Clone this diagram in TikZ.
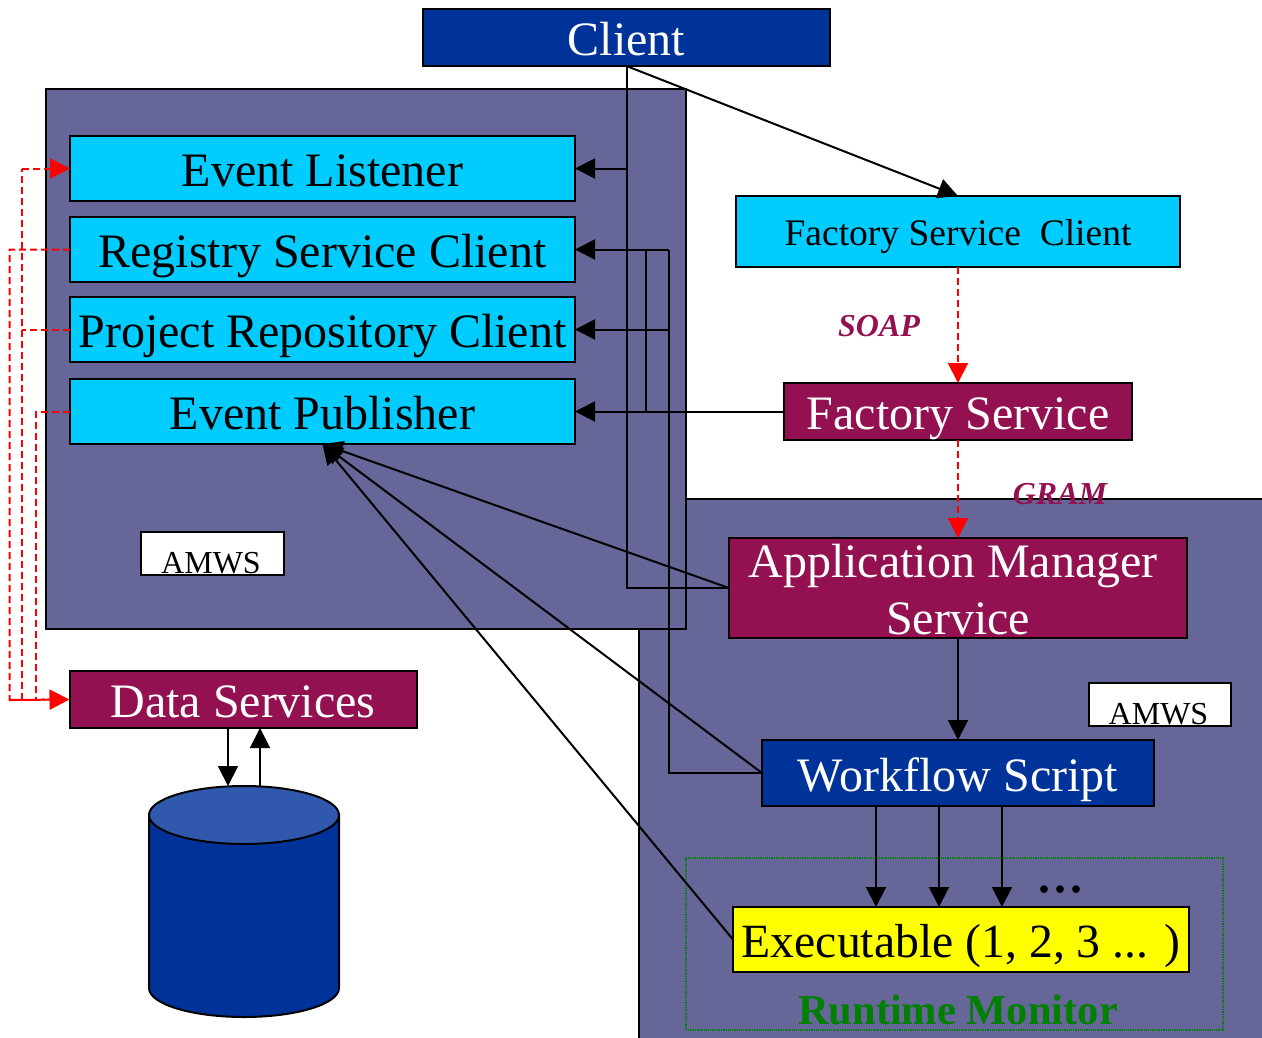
\documentclass[tikz,border=0pt]{standalone}
\usepackage{fontspec}
\setmainfont{Liberation Serif}
\usetikzlibrary{arrows.meta}
\definecolor{clientblue}{HTML}{003399}
\definecolor{panelgray}{HTML}{666699}
\definecolor{skycyan}{HTML}{00CCFF}
\definecolor{maroonbox}{HTML}{931150}
\definecolor{dbtop}{HTML}{3059AD}
\definecolor{monitorgreen}{HTML}{008000}
\definecolor{execyellow}{HTML}{FFFF00}
\newcommand{\pxfont}[1]{\fontsize{#1}{#1}\selectfont}
\tikzset{>={Triangle[length=20pt,width=20pt]},
  box/.style={draw,rectangle,inner sep=0pt,outer sep=0pt,align=center,font=\pxfont{48},text=black},
  lined/.style={text height=46pt,text depth=10pt},
  panel/.style={box,fill=panelgray},
  cyanbox/.style={box,lined,fill=skycyan},
  marbox/.style={box,lined,fill=maroonbox,text=white},
  bluebox/.style={box,lined,fill=clientblue,text=white},
  amws/.style={box,fill=white,font=\pxfont{32},text height=39pt,text depth=0pt},
  flow/.style={->},
  reddash/.style={red,line width=2pt,dash pattern=on 7pt off 4pt},
  redflow/.style={reddash,->},
  protolabel/.style={font=\pxfont{32}\bfseries\itshape,text=maroonbox,inner sep=0pt}
}
\begin{document}
\begin{tikzpicture}[x=1pt,y=-1pt,line width=2pt]
  \useasboundingbox (0,0) rectangle (1262,1037);

  % AMWS panels
  \node[panel,minimum width=640pt,minimum height=546pt] (hostpanel) at (959,772) {};
  \node[panel,minimum width=640pt,minimum height=540pt] (clientpanel) at (366,359) {};
  \node[amws,minimum width=143pt,minimum height=43pt] (amwsa) at (212.5,553.5) {AMWS\kern3pt};
  \node[amws,minimum width=142pt,minimum height=43pt] (amwsb) at (1160,704.5) {AMWS\kern3pt};

  % Client side
  \node[bluebox,minimum width=407pt,minimum height=57pt] (client) at (626.5,37.5) {Client};
  \node[cyanbox,minimum width=505pt,minimum height=65pt] (listener) at (322.5,168.5) {Event Listener};
  \node[cyanbox,minimum width=505pt,minimum height=65pt] (registry) at (322.5,249.5) {Registry Service Client};
  \node[cyanbox,minimum width=505pt,minimum height=65pt] (repository) at (322.5,329.5) {Project Repository Client};
  \node[cyanbox,minimum width=505pt,minimum height=65pt] (publisher) at (322.5,411.5) {Event Publisher};

  % Factory
  \node[cyanbox,minimum width=444pt,minimum height=71pt,font=\pxfont{37.5},text height=38pt] (factoryclient) at (958,231.5) {Factory Service\ \ Client};
  \node[marbox,minimum width=348pt,minimum height=57pt] (factory) at (958,411.5) {Factory Service};
  \node[protolabel] (soap) at (879,326) {SOAP};
  \node[protolabel] (gram) at (1060,494) {GRAM};

  % Host side
  \node[box,fill=maroonbox,text=white,minimum width=458pt,minimum height=100pt,font=\fontsize{48}{57}\selectfont] (appmgr) at (958,588) {\rule{0pt}{37pt}Application Manager\kern10pt\\Service};
  \node[bluebox,minimum width=392pt,minimum height=66pt] (workflow) at (958,773) {Workflow Script};
  \node[draw=monitorgreen,line width=1.2pt,densely dotted,minimum width=537pt,minimum height=172pt,inner sep=0pt,outer sep=0pt] (monitor) at (954.5,944) {};
  \node[box,lined,fill=execyellow,minimum width=456pt,minimum height=65pt,font=\pxfont{47.7}] (executable) at (961,939.5) {Executable (1, 2, 3 ... )};
  \node[font=\pxfont{42.5}\bfseries,text=monitorgreen,inner sep=0pt] (monitorlabel) at (958,1010) {Runtime Monitor};
  \node[font=\pxfont{64},inner sep=0pt] (dots) at (1060,890) {...};

  % Data
  \node[marbox,minimum width=347pt,minimum height=57pt] (data) at (243,699.5) {Data Services};
  \draw[fill=clientblue] (149,815) -- (149,988) arc[start angle=180,end angle=360,x radius=95pt,y radius=29pt] -- (339,815) -- cycle;
  \draw[fill=dbtop] (244,815) ellipse [x radius=95pt,y radius=29pt];
  \coordinate (datadown) at (228,728);
  \coordinate (storedown) at (228,786);
  \coordinate (storeup) at (260,786);
  \coordinate (dataup) at (260,728);
  \draw[flow] (datadown) -- (storedown);
  \draw[flow] (storeup) -- (dataup);

  % Client connectors
  \coordinate (listenerjoin) at (client.south |- listener.east);
  \coordinate (appjoin) at (client.south |- appmgr.west);
  \draw (client.south) -- (listenerjoin) -- (appjoin) -- (appmgr.west);
  \draw[flow] (listenerjoin) -- (listener.east);
  \draw[flow] (client.south) -- (factoryclient.north);

  % Factory and workflow to the client boxes
  \draw[flow] (factory.west) -- (publisher.east |- factory.west);
  \coordinate (factoryjoin) at (646,411.5);
  \coordinate (registryjoina) at (646,249.5);
  \coordinate (registryjoinb) at (669,249.5);
  \coordinate (repositoryjoin) at (669,329.5);
  \coordinate (workflowjoin) at (669,773);
  \draw (factoryjoin) -- (registryjoina);
  \draw (workflow.west) -- (workflowjoin) -- (registryjoinb);
  \draw[flow] (registryjoinb) -- (registry.east);
  \draw[flow] (repositoryjoin) -- (repository.east);

  % Event publishing
  \draw[flow] (appmgr.west) -- (publisher.south);
  \draw[flow] (workflow.west) -- (publisher.south);
  \draw[flow] (executable.west) -- (publisher.south);

  % Workflow to executables
  \coordinate (wfa) at (876,806);
  \coordinate (wfb) at (939,806);
  \coordinate (wfc) at (1002,806);
  \foreach \wf in {wfa,wfb,wfc}
    \draw[flow] (\wf) -- (\wf |- executable.north);
  \draw[flow] (appmgr.south) -- (workflow.north);

  % SOAP and GRAM
  \draw[redflow] (factoryclient.south) -- (factory.north);
  \draw[redflow] (factory.south) -- (appmgr.north);

  % Data service traffic
  \coordinate (railleft) at (9.5,700);
  \coordinate (railmid) at (22,700);
  \coordinate (railright) at (36,700);
  \draw[reddash] (registry.west) -- (railleft |- registry.west) -- (railleft) -- (data.west);
  \draw[reddash] (publisher.west) -- (railright |- publisher.west) -- (railright);
  \draw[reddash] (repository.west) -- (railmid |- repository.west);
  \draw[reddash] (railmid) -- (railmid |- listener.west);
  \draw[redflow] (railmid |- listener.west) -- (listener.west);
  \draw[redflow] (railleft) -- (data.west);
\end{tikzpicture}
\end{document}
